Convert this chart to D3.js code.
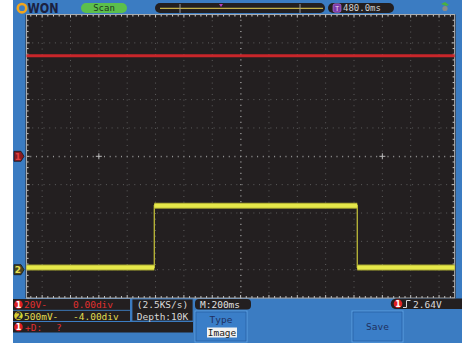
<!DOCTYPE html>
<html><head><meta charset="utf-8">
<script src="https://cdn.jsdelivr.net/npm/d3@7/dist/d3.min.js"></script>
<style>html,body{margin:0;padding:0;background:#fff}svg{display:block}</style>
</head><body>
<script>
// ---- data ----
const timebaseMsPerDiv = 200;
const ch1TimeMs = [-1510, 1510];
const ch1Volts  = [71, 71];
const ch1VoltsPerDiv = 20, ch1OffsetDiv = 0;
const ch2TimeMs = [-1510, -609, -609, 823, 823, 1510];
const ch2Volts  = [0.04, 0.04, 1.13, 1.13, 0.04, 0.04];
const ch2VoltsPerDiv = 0.5, ch2OffsetDiv = -4;
const ch1Label = ["20V-", "0.00div"];
const ch2Label = ["500mV-", "-4.00div"];
const sampleLabels = ["(2.5KS/s)", "Depth:10K"];
const mainLabel = "M:200ms";
const trigDelay = "480.0ms";
const trigLevel = "2.64V";
const mode = "Scan";

const W = 462, H = 347;
const div = 28.35, cx = 240.6, cy = 156.3, hx = 7.55, hy = 5;
const gL = cx - hx*div, gR = cx + hx*div, gT = cy - hy*div, gB = cy + hy*div;
const mono = "'DejaVu Sans Mono', 'Liberation Mono', monospace";

const svg = d3.select("body").append("svg").attr("width", W).attr("height", H);
const blue = "#3b7cc2", dark = "#231f20";
svg.append("rect").attr("x",13).attr("y",0).attr("width",W-13).attr("height",343).attr("fill",blue);
svg.append("rect").attr("x",gL-1).attr("y",gT).attr("width",gR-gL+2).attr("height",gB-gT).attr("fill",dark);

const x = d3.scaleLinear().domain([-hx*timebaseMsPerDiv, hx*timebaseMsPerDiv]).range([gL, gR]);
const y1 = d3.scaleLinear().domain([0, ch1VoltsPerDiv]).range([cy - ch1OffsetDiv*div, cy - (ch1OffsetDiv+1)*div]);
const y2 = d3.scaleLinear().domain([0, ch2VoltsPerDiv]).range([cy - ch2OffsetDiv*div, cy - (ch2OffsetDiv+1)*div]);

// grid
const g = svg.append("g");
const gridCol = "#5e5e5e";
for (let k=-7;k<=7;k++){
  if(k===0) continue;
  g.append("line").attr("x1",cx+k*div).attr("x2",cx+k*div).attr("y1",gT).attr("y2",gB)
   .attr("stroke",gridCol).attr("stroke-width",1).attr("stroke-dasharray","1,"+(div/5-1).toFixed(2));
}
for (let k=-4;k<=4;k++){
  if(k===0) continue;
  g.append("line").attr("x1",gL).attr("x2",gR).attr("y1",cy+k*div).attr("y2",cy+k*div)
   .attr("stroke",gridCol).attr("stroke-width",1).attr("stroke-dasharray","1,"+(div/5-1).toFixed(2));
}
// center axes with minor ticks
const axCol = "#9a9a9a";
for (let i=-Math.floor(hx*5);i<=Math.floor(hx*5);i++){
  const xx = cx + i*div/5;
  g.append("line").attr("x1",xx).attr("x2",xx).attr("y1",cy-0.5).attr("y2",cy+1).attr("stroke",axCol);
  g.append("line").attr("x1",xx).attr("x2",xx).attr("y1",gT).attr("y2",gT+(i%5===0?3:2)).attr("stroke","#c8c8c8");
  g.append("line").attr("x1",xx).attr("x2",xx).attr("y1",gB-(i%5===0?3:2)).attr("y2",gB).attr("stroke","#c8c8c8");
}
for (let i=-hy*5;i<=hy*5;i++){
  const yy = cy + i*div/5;
  g.append("line").attr("x1",cx-0.5).attr("x2",cx+1).attr("y1",yy).attr("y2",yy).attr("stroke",axCol);
  g.append("line").attr("x1",gL).attr("x2",gL+(i%5===0?3:2)).attr("y1",yy).attr("y2",yy).attr("stroke","#c8c8c8");
  g.append("line").attr("x1",gR-(i%5===0?3:2)).attr("x2",gR).attr("y1",yy).attr("y2",yy).attr("stroke","#c8c8c8");
}
// crosses
[-5,5].forEach(k=>{
  g.append("path").attr("d",`M${cx+k*div-3},${cy}h6M${cx+k*div},${cy-3}v6`).attr("stroke","#bbb");
});
// frame
g.append("rect").attr("x",gL).attr("y",gT).attr("width",gR-gL).attr("height",gB-gT)
 .attr("fill","none").attr("stroke","#b0b0b0").attr("stroke-width",1);

// traces
const line = (ys)=>d3.line().x(d=>x(d[0])).y(d=>ys(d[1]));
const ch1 = ch1TimeMs.map((t,i)=>[t,ch1Volts[i]]);
const ch2 = ch2TimeMs.map((t,i)=>[t,ch2Volts[i]]);
svg.append("path").attr("d",line(y1)(ch1)).attr("fill","none").attr("stroke","#c8262a").attr("stroke-width",3);
svg.append("path").attr("d",line(y2)(ch2)).attr("fill","none").attr("stroke","#c9c63a").attr("stroke-width",1.2);
for (let i=0;i<ch2.length-1;i+=2){
  const seg=[ch2[i],ch2[i+1]];
  svg.append("path").attr("d",line(y2)(seg)).attr("fill","none").attr("stroke","#a8a830").attr("stroke-width",6);
  svg.append("path").attr("d",line(y2)(seg)).attr("fill","none").attr("stroke","#e6e84a").attr("stroke-width",4);
}

// channel markers on left
function marker(yy, t, fill, tcol){
  const gm = svg.append("g");
  gm.append("path").attr("d",`M14,${yy-5}h7l3,5l-3,5h-7z`).attr("fill",fill).attr("stroke","#1a1a1a").attr("stroke-width",0.8);
  gm.append("text").attr("x",18).attr("y",yy+3.5).attr("text-anchor","middle").attr("font-family","DejaVu Sans").attr("font-weight","bold")
    .attr("font-size",9).attr("fill",tcol).text(t);
}
marker(cy, "1", "#8a1b22", "#e04040");
marker(y2(0), "2", "#4a4620", "#e8e050");

// ---- top bar ----
const tb = svg.append("g");
tb.append("circle").attr("cx",22).attr("cy",8.2).attr("r",4.2).attr("fill","none").attr("stroke","#f2a51c").attr("stroke-width",2.6);
tb.append("text").attr("x",27.5).attr("y",13.3).attr("font-family","DejaVu Sans").attr("font-weight","bold").attr("font-size",13.5)
  .attr("fill","#1b2140").attr("textLength",31).attr("lengthAdjust","spacingAndGlyphs").text("WON");
tb.append("rect").attr("x",81).attr("y",3).attr("width",46).attr("height",10).attr("rx",5).attr("fill","#5cbf4c");
tb.append("text").attr("x",104).attr("y",11.3).attr("text-anchor","middle").attr("font-family",mono).attr("font-size",9).attr("fill","#1e3a1e").text(mode);
tb.append("rect").attr("x",155).attr("y",3).attr("width",170).attr("height",10).attr("rx",5).attr("fill",dark);
tb.append("line").attr("x1",160).attr("x2",323).attr("y1",8.3).attr("y2",8.3).attr("stroke","#c2b048").attr("stroke-width",1.2);
[180,300].forEach(v=>tb.append("line").attr("x1",v).attr("x2",v).attr("y1",4).attr("y2",13).attr("stroke","#9a9a9a"));
tb.append("path").attr("d","M219,4h4l-2,3z").attr("fill","#b040c0");
tb.append("rect").attr("x",328).attr("y",3).attr("width",66).attr("height",10).attr("rx",5).attr("fill",dark);
tb.append("rect").attr("x",333).attr("y",3.8).attr("width",8).attr("height",8.5).attr("rx",2).attr("fill","#7a3aa8").attr("stroke","#c080e0").attr("stroke-width",0.6);
tb.append("text").attr("x",337).attr("y",10.8).attr("text-anchor","middle").attr("font-family",mono).attr("font-size",7).attr("fill","#e8d8f0").text("T");
tb.append("text").attr("x",343).attr("y",11.3).attr("font-family",mono).attr("font-size",9).attr("fill","#d0d0d0").text(trigDelay);
tb.append("path").attr("d","M441,4l4,-2l4,3l-3,1z").attr("fill","#4ab040");
tb.append("circle").attr("cx",445).attr("cy",8.5).attr("r",2.6).attr("fill","#8a8a8a");

// ---- bottom panel ----
const bp = svg.append("g");
function darkBox(x0,y0,w,h,rx){ bp.append("rect").attr("x",x0).attr("y",y0).attr("width",w).attr("height",h).attr("rx",rx||0).attr("fill",dark); }
function circNum(cxx,cyy,n,fill,tcol){
  bp.append("circle").attr("cx",cxx).attr("cy",cyy).attr("r",4.3).attr("fill",fill);
  bp.append("text").attr("x",cxx).attr("y",cyy+3.2).attr("text-anchor","middle").attr("font-family","DejaVu Sans").attr("font-weight","bold").attr("font-size",8).attr("fill",tcol).text(n);
}
function txt(x0,y0,s,col,anchor){ bp.append("text").attr("x",x0).attr("y",y0).attr("text-anchor",anchor||"start").attr("font-family",mono).attr("font-size",9.5).attr("fill",col).text(s); }

darkBox(13,299,117,11); darkBox(13,310.5,117,10.5);
bp.append("line").attr("x1",13).attr("x2",130).attr("y1",310.3).attr("y2",310.3).attr("stroke","#3e78b8").attr("stroke-width",0.8);
darkBox(13,322,180,10.5);
darkBox(132,299,61,22);
bp.append("rect").attr("x",132).attr("y",299).attr("width",61).attr("height",22).attr("fill","none").attr("stroke","#3e78b8").attr("stroke-width",0.8);
circNum(18.5,304.5,"1","#e02020","#fff");
txt(24,308,ch1Label[0],"#e03030"); txt(73,308,ch1Label[1],"#e03030");
circNum(18.5,315.8,"2","#d8d030","#333");
txt(24,319.5,ch2Label[0],"#e0dc50"); txt(73,319.5,ch2Label[1],"#e0dc50");
circNum(18.5,327,"1","#e02020","#fff");
txt(25,330.5,"+D:","#e03030"); txt(56,330.5,"?","#e03030");
txt(162.5,308,sampleLabels[0],"#d8d8d8","middle"); txt(162.5,319.5,sampleLabels[1],"#d8d8d8","middle");

darkBox(195,299,56,10.5,4);
txt(200,307.8,mainLabel,"#e0e0e0");

function button(x0,w){
  bp.append("rect").attr("x",x0).attr("y",311).attr("width",w).attr("height",31).attr("fill","#3a7ec8").attr("stroke","#5a9ee0").attr("stroke-width",1);
  bp.append("rect").attr("x",x0+1).attr("y",312).attr("width",w-2).attr("height",29).attr("fill","none").attr("stroke","#24579a").attr("stroke-width",0.6);
}
button(195,52); 
txt(221,323,"Type","#203060","middle");
bp.append("rect").attr("x",207).attr("y",327.5).attr("width",30).attr("height",10).attr("fill","#f2f2f2");
txt(222,335.8,"Image","#202020","middle");
button(352,51);
txt(377.5,330,"Save","#203060","middle");

bp.append("path").attr("d","M462,298.5h-66a5.25,5.25 0 0 0 0,10.5h66z").attr("fill",dark);
circNum(398,303.8,"1","#e02020","#fff");
bp.append("path").attr("d","M403,307.5h3.5v-7h4").attr("fill","none").attr("stroke","#d8d8d8").attr("stroke-width",1);
txt(413,307.8,trigLevel,"#d8d8d8");
</script>
</body></html>
